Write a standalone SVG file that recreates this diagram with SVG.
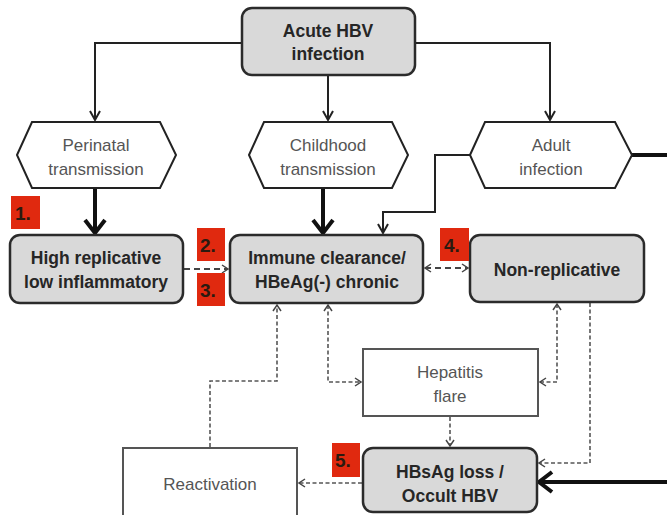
<svg xmlns="http://www.w3.org/2000/svg" width="667" height="515" viewBox="0 0 667 515">
<style>
.gbox{fill:#d9d9d9;stroke:#2b2b2b;stroke-width:2.5}
.wbox{fill:#fff;stroke:#555;stroke-width:2}
.hex{fill:#fff;stroke:#222;stroke-width:2}
.bt{font-family:"Liberation Sans",Arial,sans-serif;font-weight:bold;font-size:17.5px;fill:#262626;text-anchor:middle}
.nt{font-family:"Liberation Sans",Arial,sans-serif;font-size:17px;fill:#555;text-anchor:middle}
.num{font-family:"Liberation Sans",Arial,sans-serif;font-weight:bold;font-size:19px;fill:#2a1a10}
.red{fill:#e0290f}
.thin{fill:none;stroke:#222;stroke-width:2}
.thick{fill:none;stroke:#111;stroke-width:4}
.dash{fill:none;stroke:#555;stroke-width:1.6;stroke-dasharray:4,2.5}
.dashd{fill:none;stroke:#444;stroke-width:2.2;stroke-dasharray:6,4}
</style>
<defs>
<marker id="aThin" markerUnits="userSpaceOnUse" markerWidth="14" markerHeight="14" refX="10" refY="6" orient="auto">
<path d="M1,1 L10,6 L1,11" fill="none" stroke="#222" stroke-width="2"/>
</marker>
<marker id="aThick" markerUnits="userSpaceOnUse" markerWidth="24" markerHeight="26" refX="16" refY="13" orient="auto">
<path d="M3,3 L16,13 L3,23" fill="none" stroke="#111" stroke-width="4" stroke-linejoin="miter"/>
</marker>
<marker id="aDash" markerUnits="userSpaceOnUse" markerWidth="10" markerHeight="10" refX="8" refY="5" orient="auto-start-reverse">
<path d="M2,1 L8,5 L2,9" fill="none" stroke="#444" stroke-width="1.5"/>
</marker>
</defs>

<g id="connectors">
<path class="thin" d="M242,43 H95 V120" marker-end="url(#aThin)"/>
<path class="thin" d="M328,75 V120" marker-end="url(#aThin)"/>
<path class="thin" d="M415,43 H550 V120" marker-end="url(#aThin)"/>
<path class="thick" d="M95,188 V233" marker-end="url(#aThick)"/>
<path class="thick" d="M323,188 V233" marker-end="url(#aThick)"/>
<path class="thin" d="M470,155 H435 V212 H383 V233" marker-end="url(#aThin)"/>
<path class="thick" d="M632,155 H667"/>
<path class="thick" d="M667,482 H539" marker-end="url(#aThick)"/>
<path class="dashd" d="M184,269 H228" marker-end="url(#aDash)"/>
<path class="dashd" d="M425,268 H468" marker-start="url(#aDash)" marker-end="url(#aDash)"/>
<path class="dash" d="M328,305 V382 H361" marker-start="url(#aDash)" marker-end="url(#aDash)"/>
<path class="dash" d="M557,304 V382 H540" marker-start="url(#aDash)" marker-end="url(#aDash)"/>
<path class="dash" d="M590,303 V463 H539" marker-end="url(#aDash)"/>
<path class="dash" d="M450,417 V446" marker-end="url(#aDash)"/>
<path class="dash" d="M362,483 H299" marker-end="url(#aDash)"/>
<path class="dash" d="M210,447 V381 H277 V305" marker-end="url(#aDash)"/>
</g>

<g id="acute">
<rect class="gbox" x="242" y="8" width="173" height="67" rx="10"/>
<text class="bt" x="328" y="37">Acute HBV</text>
<text class="bt" x="328" y="60">infection</text>
</g>
<g id="perinatal">
<polygon class="hex" points="17,155 32,122 160,122 176,155 160,188 32,188"/>
<text class="nt" x="96" y="151">Perinatal</text>
<text class="nt" x="96" y="175">transmission</text>
</g>
<g id="childhood">
<polygon class="hex" points="249,155 264,122 392,122 408,155 392,188 264,188"/>
<text class="nt" x="328" y="151">Childhood</text>
<text class="nt" x="328" y="175">transmission</text>
</g>
<g id="adult">
<polygon class="hex" points="470,155 485,122 615,122 632,155 615,188 485,188"/>
<text class="nt" x="551" y="151">Adult</text>
<text class="nt" x="551" y="175">infection</text>
</g>
<g id="high">
<rect class="gbox" x="10" y="235" width="173" height="68" rx="10"/>
<text class="bt" x="96" y="264">High replicative</text>
<text class="bt" x="96" y="288">low inflammatory</text>
</g>
<g id="immune">
<rect class="gbox" x="230" y="235" width="193" height="68" rx="10"/>
<text class="bt" x="327" y="264">Immune clearance/</text>
<text class="bt" x="327" y="288">HBeAg(-) chronic</text>
</g>
<g id="nonrep">
<rect class="gbox" x="470" y="235" width="174" height="67" rx="10"/>
<text class="bt" x="557" y="276">Non-replicative</text>
</g>
<g id="flare">
<rect class="wbox" x="363" y="349" width="175" height="67"/>
<text class="nt" x="450" y="378">Hepatitis</text>
<text class="nt" x="450" y="402">flare</text>
</g>
<g id="hbsag">
<rect class="gbox" x="363" y="448" width="174" height="64" rx="10"/>
<text class="bt" x="450" y="478">HBsAg loss /</text>
<text class="bt" x="450" y="502">Occult HBV</text>
</g>
<g id="reactivation">
<rect class="wbox" x="123" y="448" width="174" height="72"/>
<text class="nt" x="210" y="490">Reactivation</text>
</g>
<g id="labels">
<rect class="red" x="11" y="196" width="29" height="33"/>
<text class="num" x="15" y="220">1.</text>
<rect class="red" x="197" y="228" width="28" height="33"/>
<text class="num" x="200" y="252">2.</text>
<rect class="red" x="197" y="273" width="28" height="33"/>
<text class="num" x="200" y="297">3.</text>
<rect class="red" x="440" y="228" width="29" height="33"/>
<text class="num" x="444" y="252">4.</text>
<rect class="red" x="332" y="443" width="28" height="34"/>
<text class="num" x="335" y="467">5.</text>
</g>
</svg>
